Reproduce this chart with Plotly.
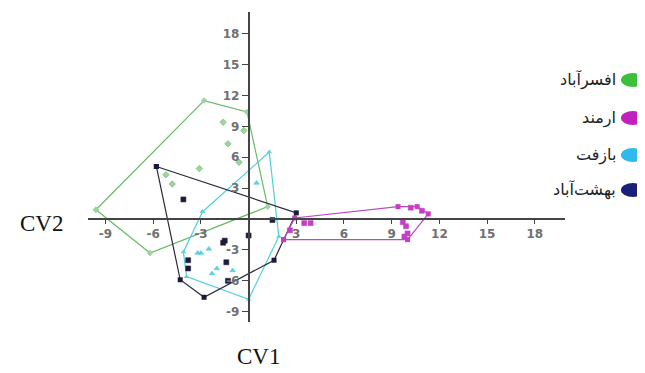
import plotly.graph_objects as go

# group names (legend) and colours
groups = ["افسرآباد", "ارمند", "بازفت", "بهشت‌آباد"]
legend_colors = ["#3cc03c", "#c21fbf", "#2fb9ef", "#1c1f7a"]
line_colors = ["#66bb66", "#b94cc0", "#4fd0dc", "#2a2a3a"]
marker_colors = ["#9fd39f", "#c83cc8", "#5fd3dc", "#1a1a3c"]
marker_symbols = ["diamond", "square", "triangle-up", "square"]

# hull vertices (CV1, CV2)
afsar_hull_x = [-9.6, -2.8, -0.1, 1.2, -6.2]
afsar_hull_y = [0.9, 11.5, 10.4, 1.2, -3.3]
armand_hull_x = [2.2, 2.9, 9.4, 10.6, 11.3, 10.0]
armand_hull_y = [-2.0, 0.1, 1.2, 1.2, 0.5, -2.0]
bazoft_hull_x = [-2.9, 1.3, 1.9, 0.0, -3.9, -4.1]
bazoft_hull_y = [0.7, 6.5, -1.7, -7.8, -5.6, -3.2]
behesht_hull_x = [-5.8, 3.0, 1.6, -2.8, -4.3]
behesht_hull_y = [5.1, 0.6, -4.0, -7.6, -5.9]

# interior points
afsar_x = [-1.6, -0.3, -1.3, -0.6, -3.1, -5.2, -4.8]
afsar_y = [9.4, 8.6, 7.3, 5.5, 4.9, 4.3, 3.4]
armand_x = [3.5, 3.9, 2.6, 9.7, 9.9, 10.0, 9.8, 10.9, 10.2]
armand_y = [-0.4, -0.4, -1.1, -0.3, -0.7, -1.4, -1.7, 0.8, 1.1]
bazoft_x = [-3.2, -3.0, -2.5, -2.0, -2.3, 0.5, -1.0]
bazoft_y = [-3.3, -3.3, -2.9, -4.8, -5.3, 3.5, -5.0]
behesht_x = [-4.1, 1.5, 0.0, -1.6, -1.5, -3.8, -3.8, -1.4, -1.3]
behesht_y = [1.9, -0.1, -1.6, -2.3, -2.1, -4.0, -4.8, -4.2, -6.0]

tick_vals = [-9, -6, -3, 3, 6, 9, 12, 15, 18]
tick_text = [str(v) for v in tick_vals]

hulls = [(afsar_hull_x, afsar_hull_y), (armand_hull_x, armand_hull_y),
         (bazoft_hull_x, bazoft_hull_y), (behesht_hull_x, behesht_hull_y)]
points = [(afsar_x, afsar_y), (armand_x, armand_y),
          (bazoft_x, bazoft_y), (behesht_x, behesht_y)]

fig = go.Figure()
for i in [0, 2, 3, 1]:
    hx, hy = hulls[i]
    px, py = points[i]
    fig.add_trace(go.Scatter(
        x=hx + hx[:1], y=hy + hy[:1], mode="lines+markers",
        line=dict(color=line_colors[i], width=1.2),
        marker=dict(symbol=marker_symbols[i], size=5, color=marker_colors[i]),
        hoverinfo="skip"))
    fig.add_trace(go.Scatter(
        x=px, y=py, mode="markers",
        marker=dict(symbol=marker_symbols[i], size=5, color=marker_colors[i],
                    line=dict(width=0.6, color=line_colors[i])),
        hoverinfo="skip"))

xr = [-10.1, 19.9]
yr = [-10.0, 20.1]
axis_font = dict(family="DejaVu Sans", size=12, color="#707070", weight="bold")

# the page has an 8px body margin, so the figure is 8px smaller than the window
W, H = 637, 365
ML, MR, MT, MB = 80, 80, 4, 51
plot_w = W - ML - MR
plot_h = H - MT - MB

fig.update_layout(
    width=W, height=H,
    margin=dict(l=ML, r=MR, t=MT, b=MB),
    paper_bgcolor="white", plot_bgcolor="white",
    showlegend=False,
    xaxis=dict(range=xr, anchor="free", position=(0 - yr[0]) / (yr[1] - yr[0]),
               showline=True, linecolor="#444", linewidth=1.5,
               ticks="outside", ticklen=4, tickcolor="#444",
               tickvals=tick_vals, ticktext=tick_text, tickfont=axis_font,
               showgrid=False, zeroline=False),
    yaxis=dict(range=yr, anchor="free", position=(0 - xr[0]) / (xr[1] - xr[0]),
               showline=True, linecolor="#444", linewidth=1.5,
               ticks="outside", ticklen=6, tickcolor="#444",
               tickvals=tick_vals, ticktext=tick_text, tickfont=axis_font,
               showgrid=False, zeroline=False),
)

# axis titles
fig.add_annotation(text="CV2", xref="paper", yref="paper",
                   x=(33 - ML) / plot_w, y=1 - (215 - MT) / plot_h,
                   showarrow=False, xanchor="center", yanchor="middle",
                   font=dict(family="Liberation Serif", size=23, color="#111"))
fig.add_annotation(text="CV1", xref="paper", yref="paper",
                   x=(250 - ML) / plot_w, y=1 - (349 - MT) / plot_h,
                   showarrow=False, xanchor="center", yanchor="middle",
                   font=dict(family="Liberation Serif", size=23, color="#111"))

# legend drawn by hand: text on the left, dot on the right
row_y = [72, 110, 147, 182]
for name, col, ry in zip(groups, legend_colors, row_y):
    yp = 1 - (ry - MT) / plot_h
    fig.add_shape(type="circle", xref="paper", yref="paper",
                  x0=(613 - ML) / plot_w, x1=(637 - ML) / plot_w,
                  y0=yp - 7 / plot_h, y1=yp + 7 / plot_h,
                  fillcolor=col, line=dict(width=0))
    fig.add_annotation(text=name, xref="paper", yref="paper",
                       x=(610 - ML) / plot_w, y=yp, showarrow=False,
                       xanchor="right", yanchor="middle",
                       font=dict(family="DejaVu Sans", size=16, color="#222"))

fig.write_html("out.html")
